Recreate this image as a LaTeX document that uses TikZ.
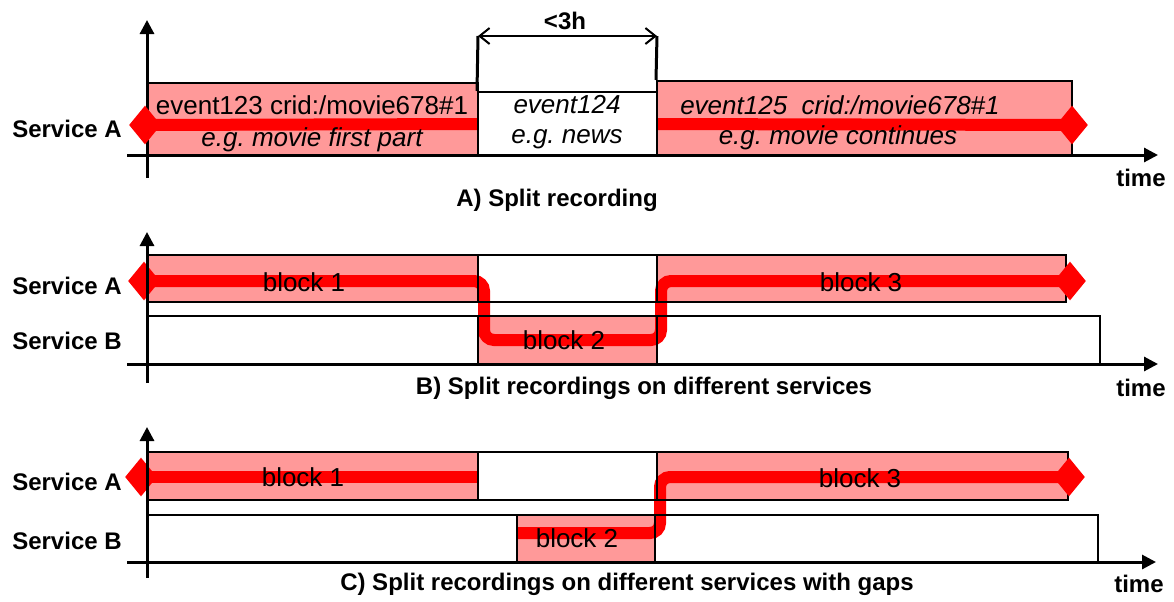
\documentclass[tikz,border=0pt]{standalone}
\usepackage{fontspec}
\setmainfont{Liberation Sans}
\usetikzlibrary{arrows.meta,shapes.geometric}
\definecolor{evpink}{RGB}{255,153,153}
\definecolor{evred}{RGB}{255,0,0}
\pgfdeclarelayer{fills}
\pgfdeclarelayer{rec}
\pgfsetlayers{fills,rec,main}
\frenchspacing

\begin{document}
\begin{tikzpicture}[x=0.5pt,y=-0.5pt,
  box/.style={draw=black, line width=1pt, inner sep=0pt},
  txt/.style={font=\fontsize{13}{15}\selectfont, inner sep=0pt},
  itx/.style={font=\fontsize{13}{15}\selectfont\itshape, inner sep=0pt},
  lbl/.style={font=\fontsize{12}{14}\selectfont\bfseries, inner sep=0pt},
  tip/.style={diamond, fill=evred, inner sep=0pt, minimum width=16pt, minimum height=19.5pt},
  recline/.style={draw=evred, line width=6pt, rounded corners=5pt},
  axis/.style={line width=1.5pt, -{Triangle[length=7pt,width=7pt]}},
  dim/.style={line width=1pt, {Straight Barb[length=5pt,width=8pt]}-{Straight Barb[length=5pt,width=8pt]}}]
\useasboundingbox (0,0) rectangle (1174,601);

% A) split recording
\draw [axis] (147,178) -- (147,20);
\draw [axis] (127,155) -- (1158,155);
\node [box, minimum width=165.5pt, minimum height=36pt] (a1) at (312.5,119) {};
\node [box, minimum width=89.5pt, minimum height=31.5pt] (a2) at (567.5,123.5) {};
\node [box, minimum width=207.5pt, minimum height=37pt] (a3) at (864.5,118) {};
\node [txt] (a1t) at (312,105) {event123 crid:/movie678\#1};
\node [itx] (a1b) at (312,140) {e.g. movie first part};
\node [itx] (a2t) at (567,105) {event124};
\node [itx] (a2b) at (567,139) {e.g. news};
\node [itx] (a3t) at (840,105) {event125~~crid:/movie678\#1};
\node [itx] (a3b) at (838,138) {e.g. movie continues};
\node [tip] (dA1) at (145,125) {};
\node [tip] (dA3) at (1072,125) {};
\coordinate (eA1) at (478,124);
\coordinate (sA3) at (657,124);
\coordinate (m1) at (478,36);
\coordinate (m2) at (657,36);
\draw [line width=1.5pt] (a2.north west) -- (m1);
\draw [line width=1.5pt] (a3.north west) -- (m2);
\draw [dim] (m1) -- (m2);
\node [lbl] (dur) at (565,21) {<3h};
\node [lbl] (svA1) at (67,129) {Service A};
\node [lbl] (tA) at (1141,178) {time};
\node [lbl] (capA) at (557,200) {A) Split recording};

% B) split over two services
\node [box, minimum width=476.5pt, minimum height=24pt] (bB) at (623.5,340) {};
\node [box, minimum width=165.5pt, minimum height=23.5pt] (b1) at (312.5,278.5) {};
\node [box, minimum width=89.5pt, minimum height=23.5pt] (b2) at (567.5,278.5) {};
\node [box, minimum width=204.5pt, minimum height=23.5pt] (b3) at (861.5,278.5) {};
\node [box, minimum width=89.5pt, minimum height=24pt] (bk2) at (567.5,340) {};
\node [txt] (b1t) at (304,282) {block 1};
\node [txt] (bk2t) at (564,340) {block 2};
\node [txt] (b3t) at (861,282) {block 3};
\node [tip] (dB1) at (144,281) {};
\node [tip] (dB3) at (1070,281) {};
\draw [axis] (147,383) -- (147,232);
\draw [axis] (127,364) -- (1158,364);
\node [lbl] (svA2) at (67,286) {Service A};
\node [lbl] (svB2) at (67,341) {Service B};
\node [lbl] (tB) at (1141,388) {time};
\node [lbl] (capB) at (644,388) {B) Split recordings on different services};

% C) with gaps
\node [box, minimum width=475.5pt, minimum height=23.5pt] (cB) at (622.5,538.5) {};
\node [box, minimum width=165.5pt, minimum height=24pt] (c1) at (312.5,476) {};
\node [box, minimum width=89.5pt, minimum height=24pt] (c2) at (567.5,476) {};
\node [box, minimum width=205.5pt, minimum height=24pt] (c3) at (862.5,476) {};
\node [box, minimum width=69pt, minimum height=23.5pt] (ck2) at (586,538.5) {};
\node [txt] (c1t) at (303,477) {block 1};
\node [txt] (ck2t) at (577,538) {block 2};
\node [txt] (c3t) at (860,478) {block 3};
\node [tip] (dC1) at (141,477) {};
\node [tip] (dC3) at (1069,477) {};
\coordinate (eC1) at (478,477);
\coordinate (sC2) at (517,533);
\draw [axis] (147,578) -- (147,427);
\draw [axis] (127,562) -- (1156,562);
\node [lbl] (svA3) at (67,482) {Service A};
\node [lbl] (svB3) at (67,541) {Service B};
\node [lbl] (tC) at (1139,584) {time};
\node [lbl] (capC) at (627,584) {C) Split recordings on different services with gaps};

\begin{pgfonlayer}{fills}
\foreach \b in {a1,a3,b1,b3,bk2,c1,c3,ck2}
  \fill [evpink] (\b.south west) rectangle (\b.north east);
\end{pgfonlayer}
\begin{pgfonlayer}{rec}
\draw [recline] (dA1.center) -- (eA1);
\draw [recline] (sA3) -- (dA3.center);
\draw [recline] (dB1.center) -| (484,340) -| (661,281) -- (dB3.center);
\draw [recline] (dC1.center) -- (eC1);
\draw [recline] (sC2) -| (660,477) -- (dC3.center);
\end{pgfonlayer}
\end{tikzpicture}
\end{document}
